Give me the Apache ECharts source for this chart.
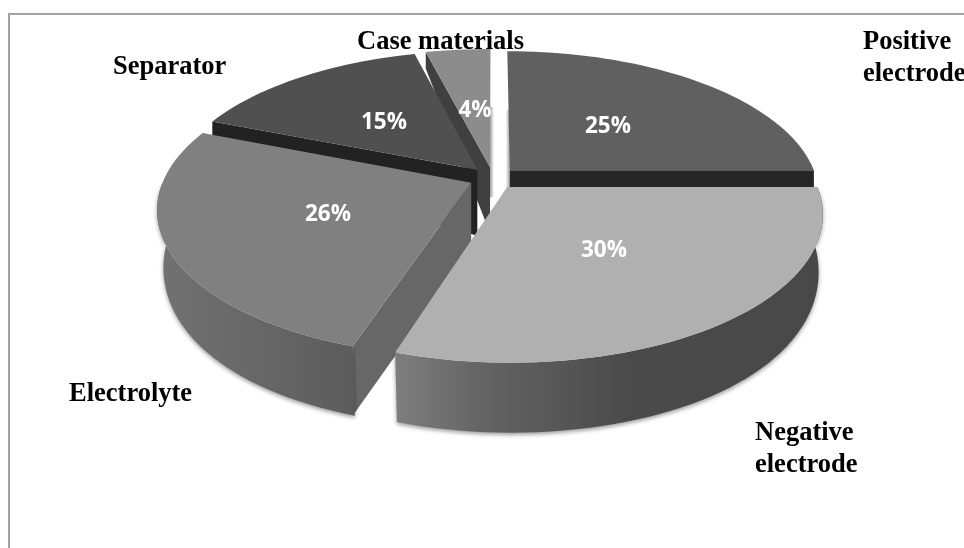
<!DOCTYPE html>
<html>
<head>
<meta charset="utf-8">
<style>html,body{margin:0;padding:0;background:#fff}#chart{width:964px;height:548px}</style>
<script src="https://cdn.jsdelivr.net/npm/echarts@6/dist/echarts.min.js"></script>
</head>
<body>
<div id="chart"></div>
<script>
// Shares of battery cost by component, clockwise from twelve o'clock.
const categories = ['Positive electrode', 'Negative electrode', 'Electrolyte', 'Separator', 'Case materials'];
const shares = [25, 30, 26, 15, 4];

// Slice appearance, same order as the categories.
const topColors = ['#606060', '#b0b0b0', '#808080', '#505050', '#8c8c8c'];
const sideColors = ['#262626', '#555555', '#676767', '#222222', '#404040'];
const rimStops = [
  [[0, '#262626'], [1, '#262626']],
  [[0, '#7e7e7e'], [0.2, '#646464'], [0.55, '#4a4a4a'], [1, '#484848']],
  [[0, '#727272'], [1, '#5c5c5c']],
  [[0, '#333'], [1, '#333']],
  [[0, '#555'], [1, '#555']]
];
// Back-to-front painting order of the slices.
const paintOrder = [4, 3, 0, 2, 1];

// Projection of the pie's ground plane onto the page.
const EXPLODE = 0.078;
const TOP_VIEW = { cx: 493, cy: 178, fx: 307, fy: 142, px: 0.172, py: 0.172 };
const BOTTOM_VIEW = { cx: 494, cy: 228, fx: 301.5, fy: 170, px: 0.18, py: 0.11 };
const INNER_DEPTH = 66;

function project(X, Z, bottom) {
  const v = bottom ? BOTTOM_VIEW : TOP_VIEW;
  return [v.cx + v.fx * X / (1 - v.px * Z), v.cy + v.fy * Z / (1 - v.py * Z)];
}

const total = shares.reduce((a, b) => a + b, 0);
const rad = d => d * Math.PI / 180;
const startAngles = [];
shares.reduce((acc, s, i) => { startAngles[i] = acc; return acc + s / total * 360; }, 0);

function sliceGeometry(i) {
  const a0 = startAngles[i];
  const a1 = a0 + shares[i] / total * 360;
  const mid = rad((a0 + a1) / 2);
  const ox = EXPLODE * Math.sin(mid), oz = -EXPLODE * Math.cos(mid);
  const pt = (deg, r, bottom) => project(ox + r * Math.sin(rad(deg)), oz - r * Math.cos(rad(deg)), bottom);
  return { a0, a1, pt };
}

function arcAngles(a0, a1) {
  const out = [];
  const n = Math.max(6, Math.ceil((a1 - a0) / 2));
  for (let k = 0; k <= n; k++) out.push(a0 + (a1 - a0) * k / n);
  return out;
}

function renderSlice(params, api) {
  const i = api.value(0);
  const g = sliceGeometry(i);
  const base = params.dataIndex * 10;
  const children = [];

  [[g.a0, g.a0 - 90, 1], [g.a1, g.a1 + 90, -1]].forEach(([deg, normal, side]) => {
    const facing = -Math.cos(rad(normal));
    const apex = g.pt(deg, 0), rim = g.pt(deg, 1);
    if (facing > 0.05) {
      // Radial wall turned towards the viewer, with vertical edges.
      children.push({
        type: 'polygon', z2: base + 1,
        shape: { points: [apex, rim, [rim[0], g.pt(deg, 1, true)[1]], [apex[0], apex[1] + INNER_DEPTH]] },
        style: { fill: sideColors[i] }
      });
    } else if (Math.abs(facing) <= 0.05 && Math.abs(Math.sin(rad(deg))) < 0.01) {
      // Wall seen edge-on: only a soft sliver shows beside the gap.
      const w = 4, x = side > 0 ? apex[0] - w : apex[0];
      const fade = side > 0
        ? [{ offset: 0, color: 'rgba(150,150,150,0)' }, { offset: 1, color: 'rgba(150,150,150,0.9)' }]
        : [{ offset: 0, color: 'rgba(150,150,150,0.9)' }, { offset: 1, color: 'rgba(150,150,150,0)' }];
      children.push({
        type: 'rect', z2: base,
        shape: { x, y: apex[1] - 60, width: w, height: 90 },
        style: { fill: new echarts.graphic.LinearGradient(x, 0, x + w, 0, fade, true) }
      });
    }
  });

  // Outer rim: the part of the arc that faces front.
  const front = arcAngles(g.a0, g.a1).filter(d => Math.cos(rad(d)) < 0.02);
  if (front.length > 1) {
    const upper = front.map(d => g.pt(d, 1));
    const lower = front.map(d => g.pt(d, 1, true)).reverse();
    const xs = upper.map(p => p[0]);
    const stops = rimStops[i].map(([offset, color]) => ({ offset, color }));
    children.push({
      type: 'polygon', z2: base + 2,
      shape: { points: upper.concat(lower) },
      style: {
        fill: new echarts.graphic.LinearGradient(Math.min(...xs), 0, Math.max(...xs), 0, stops, true),
        shadowBlur: 4, shadowColor: 'rgba(0,0,0,0.4)', shadowOffsetY: 2
      }
    });
  }

  // Top face.
  const topPts = [g.pt(g.a0, 0)].concat(arcAngles(g.a0, g.a1).map(d => g.pt(d, 1)));
  children.push({
    type: 'polygon', z2: base + 3,
    shape: { points: topPts },
    style: { fill: topColors[i] }
  });
  return { type: 'group', children };
}

// Text placement on the page.
const percentAnchors = [[608, 127], [604, 251], [328, 215], [384, 123], [475, 111]];
const nameLabels = [
  { text: 'Positive\nelectrode', x: 863, y: 26 },
  { text: 'Negative\nelectrode', x: 755, y: 417 },
  { text: 'Electrolyte', x: 69, y: 378 },
  { text: 'Separator', x: 113, y: 51 },
  { text: 'Case materials', x: 357, y: 26 }
];

const chart = echarts.init(document.getElementById('chart'), null, { renderer: 'canvas' });
chart.setOption({
  animation: false,
  backgroundColor: '#ffffff',
  series: [{
    type: 'custom',
    coordinateSystem: 'none',
    silent: true,
    renderItem: renderSlice,
    data: paintOrder.map(i => [i, shares[i]])
  }],
  graphic: [
    {
      type: 'rect', z: -1, silent: true,
      shape: { x: 9, y: 14, width: 1000, height: 600 },
      style: { fill: 'none', stroke: '#a3a3a3', lineWidth: 2 }
    },
    ...shares.map((s, i) => ({
      type: 'text', z: 10, silent: true,
      x: percentAnchors[i][0], y: percentAnchors[i][1],
      style: {
        text: s + '%', fill: '#ffffff', align: 'center', verticalAlign: 'middle',
        font: 'bold 22.5px "Open Sans", sans-serif'
      }
    })),
    ...nameLabels.map(l => ({
      type: 'text', z: 10, silent: true,
      x: l.x, y: l.y,
      style: {
        text: l.text, fill: '#000000', lineHeight: 32,
        font: 'bold 26.5px "Liberation Serif", serif'
      }
    }))
  ]
});
</script>
</body>
</html>
